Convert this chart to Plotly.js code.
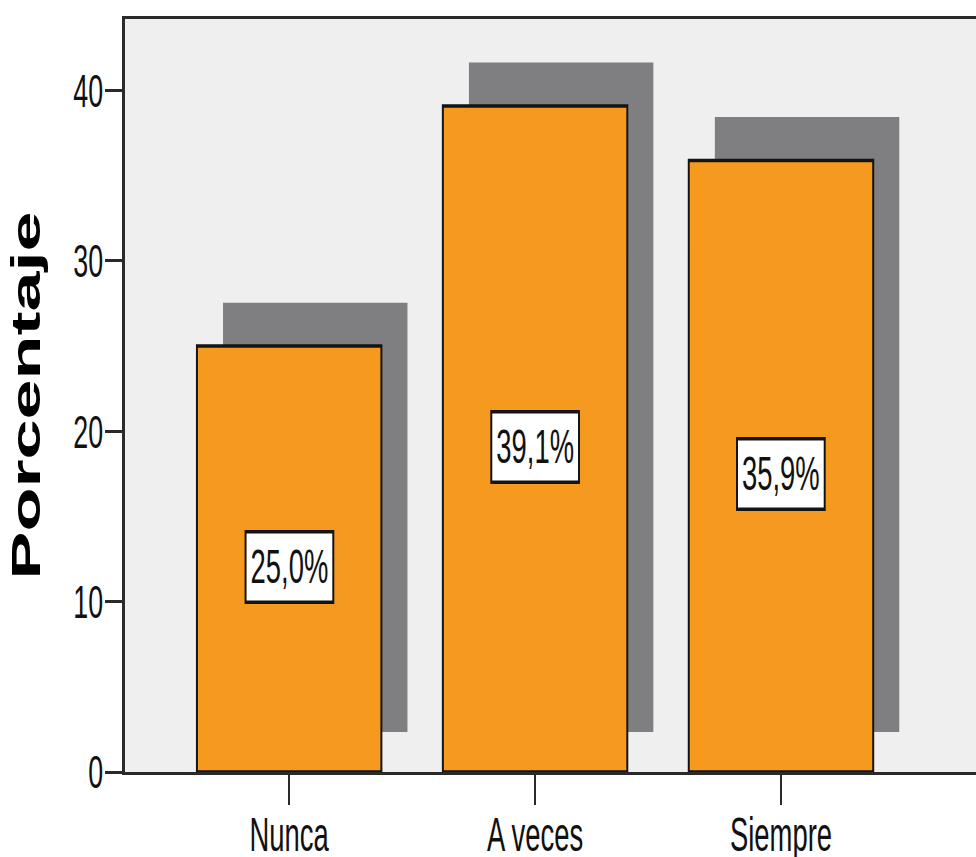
<!DOCTYPE html>
<html>
<head>
<meta charset="utf-8">
<script src="https://cdn.plot.ly/plotly-3.0.1.min.js"></script>
<style>
html, body { margin:0; padding:0; overflow:hidden; background:#ffffff; width:976px; height:857px; }
#chart { width:1708px; height:857px; transform:scaleX(0.5714286); transform-origin:0 0; }
</style>
</head>
<body>
<div id="chart"></div>
<script>
// ---- data ----
const categories = ['Nunca', 'A veces', 'Siempre'];
const percentages = [25.0, 39.1, 35.9];
const barLabels = ['25,0%', '39,1%', '35,9%'];
const yTickValues = [0, 10, 20, 30, 40];
const yTickLabels = ['0', '10', '20', '30', '40'];
const yAxisTitle = 'Porcentaje';

// ---- style ----
const FONT = 'Liberation Sans, Arial, sans-serif';
const barWidth = 0.75;
const shadowShiftX = 0.106;     // category units
const shadowBase = 2.35;        // shadow bottom (axis units)
const shadowLift = 0.2;         // extra shadow height

const shadow = {
  type: 'bar',
  x: categories,
  y: percentages.map(v => v + shadowLift),
  base: shadowBase,
  width: barWidth,
  offset: -barWidth / 2 + shadowShiftX,
  marker: { color: '#7f7f81', line: { width: 0 } },
  hoverinfo: 'skip',
  showlegend: false
};

const bars = {
  type: 'bar',
  x: categories,
  y: percentages,
  width: barWidth,
  offset: -barWidth / 2,
  marker: { color: '#f69a1f', line: { color: '#141414', width: 3.5 } },
  showlegend: false
};

const annotations = categories.map((c, i) => ({
  x: c,
  y: percentages[i] / 2,
  xref: 'x',
  yref: 'y',
  yshift: -7.7,
  text: barLabels[i],
  showarrow: false,
  font: { family: FONT, size: 48, color: '#111111' },
  bgcolor: '#ffffff',
  bordercolor: '#141414',
  borderwidth: 3.5,
  borderpad: 7,
  xanchor: 'center',
  yanchor: 'middle'
}));

const layout = {
  width: 1708,
  height: 857,
  margin: { l: 219, r: 0, t: 19, b: 85 },
  paper_bgcolor: '#ffffff',
  plot_bgcolor: '#efefef',
  barmode: 'overlay',
  showlegend: false,
  font: { family: FONT, color: '#111111' },
  xaxis: {
    type: 'category',
    range: [-0.667, 2.793],
    showgrid: false,
    zeroline: false,
    showline: true,
    mirror: true,
    linecolor: '#2a2a2a',
    linewidth: 3,
    ticks: 'outside',
    ticklen: 30,
    tickwidth: 4,
    tickcolor: '#2a2a2a',
    ticklabelstandoff: -12,
    tickfont: { family: FONT, size: 48, color: '#111111' },
    automargin: false
  },
  yaxis: {
    range: [0, 44.2],
    tickvals: yTickValues,
    ticktext: yTickLabels,
    showgrid: false,
    zeroline: false,
    showline: true,
    mirror: false,
    linecolor: '#2a2a2a',
    linewidth: 5,
    ticks: 'outside',
    ticklen: 31,
    tickwidth: 3,
    tickcolor: '#2a2a2a',
    ticklabelstandoff: -7,
    tickfont: { family: FONT, size: 47, color: '#111111' },
    automargin: false,
    title: {
      text: yAxisTitle,
      font: { family: FONT, size: 72, color: '#000000', weight: 'bold' },
      standoff: 35
    }
  },
  annotations: annotations
};

Plotly.newPlot('chart', [shadow, bars], layout, { displayModeBar: false, staticPlot: true });
</script>
</body>
</html>
